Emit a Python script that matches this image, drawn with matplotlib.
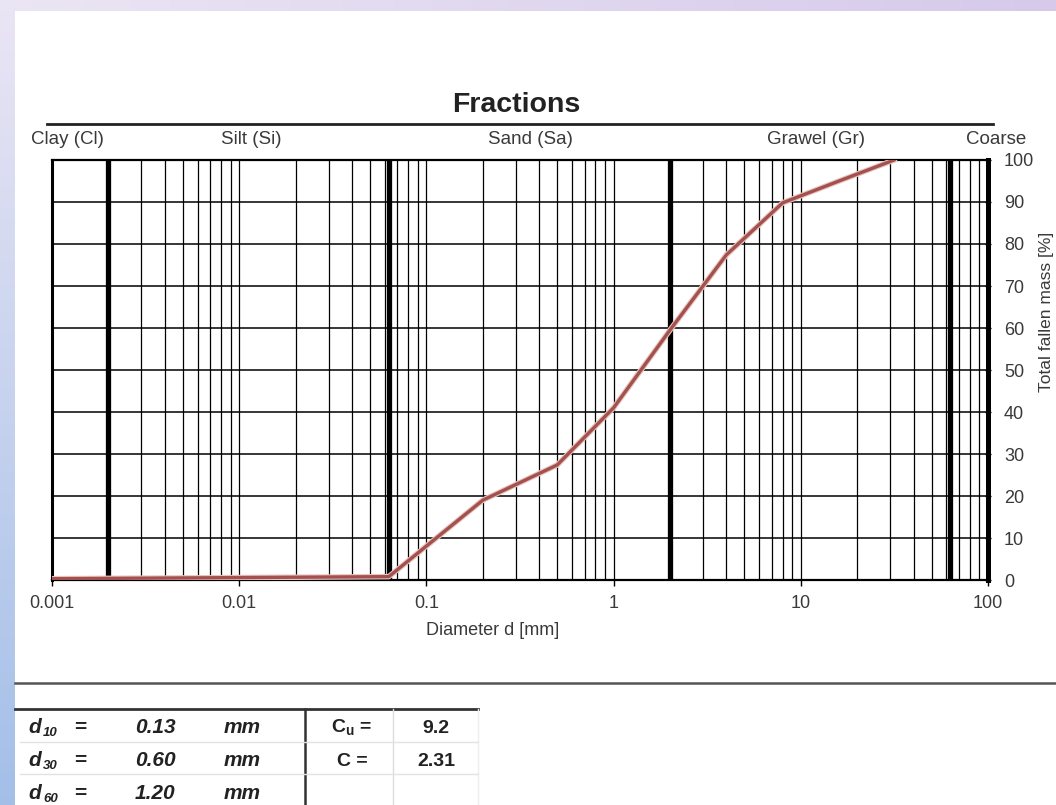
import numpy as np
import matplotlib.pyplot as plt
from matplotlib.lines import Line2D

plt.rcParams['font.family'] = ['Liberation Sans', 'DejaVu Sans']
plt.rcParams['mathtext.fontset'] = 'custom'
plt.rcParams['mathtext.rm'] = 'Liberation Sans:bold'

# Sieve curve
diameter_mm = [0.001, 0.063, 0.2, 0.5, 1.0, 2.0, 4.0, 8.0, 16.0, 31.5]
passing_pct = [0.3, 0.8, 19, 27.4, 41, 59.5, 77.4, 89.8, 95, 100]

# Fraction limits (thick lines) and names
fraction_bounds = [0.002, 0.063, 2.0, 63.0]
fraction_names = ['Clay (Cl)', 'Silt (Si)', 'Sand (Sa)', 'Grawel (Gr)', 'Coarse']

x_ticks = [0.001, 0.01, 0.1, 1, 10, 100]
x_tick_labels = ['0.001', '0.01', '0.1', '1', '10', '100']
y_ticks = list(range(0, 101, 10))

# Characteristic diameters table
d_names = ['10', '30', '60']
d_values = ['0.13', '0.60', '1.20']
c_names = [r'C$_\mathrm{u}$ =', 'C =', '']
c_values = ['9.2', '2.31', '']

W, H = 1056, 805
fig = plt.figure(figsize=(W / 100, H / 100), dpi=100)


def fx(px):
    return px / W


def fy(py):
    return 1 - py / H


# lavender / blue frame around the white page
bg = fig.add_axes([0, 0, 1, 1])
xs = np.linspace(0, 1, W)
ys = np.linspace(0, 1, H)
c_tl = np.array([0.92, 0.90, 0.96])
c_tr = np.array([0.84, 0.79, 0.92])
c_bl = np.array([0.64, 0.75, 0.91])
top = c_tl[None, :] + (c_tr - c_tl)[None, :] * xs[:, None]
left = c_tl[None, :] + (c_bl - c_tl)[None, :] * ys[:, None]
img = np.ones((H, W, 3))
img[:, :, :] = left[:, None, :]
img[:12, :, :] = top[None, :, :]
img[12:, 15:, :] = 1.0
bg.imshow(img, aspect='auto', extent=[0, 1, 0, 1])
bg.set_axis_off()

# main chart
ax = fig.add_axes([fx(52), fy(580), fx(988) - fx(52), fy(160) - fy(580)])
ax.set_xscale('log')
ax.set_xlim(0.001, 100)
ax.set_ylim(0, 100)

# grid: horizontal every 10 %, vertical at every log step
for y in y_ticks[1:-1]:
    ax.axhline(y, color='black', lw=1.1, zorder=1)
for dec in [0.001, 0.01, 0.1, 1, 10]:
    for k in range(2, 10):
        ax.axvline(dec * k, color='black', lw=0.9, zorder=1)
    ax.axvline(dec, color='black', lw=0.9, zorder=1)
for b in fraction_bounds:
    ax.axvline(b, color='black', lw=3.8, zorder=2)

ax.plot(diameter_mm, passing_pct, color='#e6c4c0', lw=4.0, zorder=4,
        solid_joinstyle='round')
ax.plot(diameter_mm, passing_pct, color='#a4514d', lw=2.4, zorder=5,
        solid_joinstyle='round')

ax.spines['left'].set_linewidth(2.2)
ax.spines['right'].set_linewidth(3.6)
ax.spines['top'].set_linewidth(1.6)
ax.spines['bottom'].set_linewidth(1.6)

ax.set_xticks(x_ticks)
ax.set_xticklabels(x_tick_labels)
ax.xaxis.set_minor_locator(plt.NullLocator())
ax.tick_params(axis='x', which='major', length=4, width=1, pad=7,
               labelsize=13, labelcolor='#3a3a3a')

ax.yaxis.tick_right()
ax.set_yticks(y_ticks)
ax.tick_params(axis='y', which='major', length=5, width=1, direction='inout',
               pad=9, labelsize=13, labelcolor='#3a3a3a')

ax.set_xlabel('Diameter d [mm]', fontsize=13, color='#3a3a3a')
ax.xaxis.set_label_coords((493 - 52) / 936, -0.1)

fig.text(fx(1047), fy(312), 'Total fallen mass [%]', rotation=90,
         ha='center', va='center', fontsize=12.5, color='#3a3a3a')

# header above the chart
fig.text(fx(516), fy(105), 'Fractions', ha='center', va='center',
         fontsize=20.5, fontweight='bold', color='#222222')
fig.add_artist(Line2D([fx(47), fx(993)], [fy(124), fy(124)],
                      color='#222222', lw=2))
name_x = [67, 251, 530, 816, 996]
for name, px in zip(fraction_names, name_x):
    fig.text(fx(px), fy(140), name, ha='center', va='center',
             fontsize=13.5, color='#3a3a3a')

# table below
fig.add_artist(Line2D([fx(15), fx(W)], [fy(683), fy(683)],
                      color='#555555', lw=1.8))
fig.add_artist(Line2D([fx(15), fx(478)], [fy(709), fy(709)],
                      color='#333333', lw=2))
fig.add_artist(Line2D([fx(305), fx(305)], [fy(709), fy(H)],
                      color='#333333', lw=1.8))
fig.add_artist(Line2D([fx(393), fx(393)], [fy(709), fy(H)],
                      color='#dddddd', lw=1))
fig.add_artist(Line2D([fx(478), fx(478)], [fy(709), fy(H)],
                      color='#eeeeee', lw=1))
for py in [742, 774]:
    fig.add_artist(Line2D([fx(20), fx(478)], [fy(py), fy(py)],
                          color='#e2e2e2', lw=1))

# baselines of the three table rows
row_base = [733, 766, 799]
bi = dict(fontweight='bold', style='italic', color='#222222', va='baseline')
for i, py in enumerate(row_base):
    fig.text(fx(28), fy(py), 'd', ha='left', fontsize=15, **bi)
    fig.text(fx(43), fy(py + 3), d_names[i], ha='left', fontsize=9.5, **bi)
    fig.text(fx(80), fy(py), '=', ha='center', fontsize=15,
             fontweight='bold', color='#222222', va='baseline')
    fig.text(fx(155), fy(py), d_values[i], ha='center', fontsize=15, **bi)
    fig.text(fx(242), fy(py), 'mm', ha='center', fontsize=15, **bi)
    fig.text(fx(352), fy(py), c_names[i], ha='center', va='baseline',
             fontsize=14, fontweight='bold', color='#222222')
    fig.text(fx(436), fy(py), c_values[i], ha='center', va='baseline',
             fontsize=14, fontweight='bold', color='#222222')

fig.savefig('out.png', dpi=100)
